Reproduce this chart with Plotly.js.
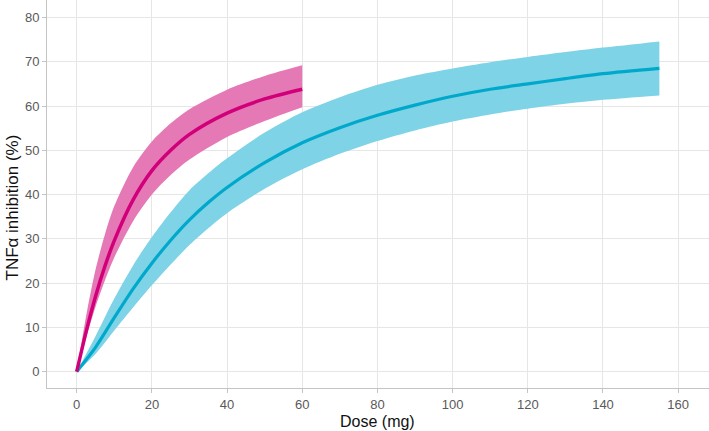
<!DOCTYPE html>
<html>
<head>
<meta charset="utf-8">
<script src="https://cdn.plot.ly/plotly-3.0.1.min.js"></script>
<style>html,body{margin:0;padding:0;background:#fff;}#chart{width:709px;height:431px;}</style>
</head>
<body>
<div id="chart"></div>
<script>
// Magenta series (doses 0-60 mg)
const doseA = [0, 2.5, 5, 7.5, 10, 15, 20, 25, 30, 40, 50, 60];
const medianA = [0, 9.0, 17.0, 23.8, 29.6, 38.8, 45.4, 50.0, 53.6, 58.4, 61.6, 63.8];
const upperA = [0, 12.5, 23.0, 31.0, 37.4, 46.2, 52.0, 56.1, 59.3, 63.7, 66.8, 69.2];
const lowerA = [0, 7.6, 14.6, 20.6, 25.8, 34.0, 40.0, 44.4, 47.9, 53.0, 56.6, 59.7];

// Cyan series (doses 0-155 mg)
const doseB = [0, 5, 10, 15, 20, 25, 30, 35, 40, 50, 60, 70, 80, 90, 100, 110, 120, 130, 140, 155];
const medianB = [0, 5.5, 12.2, 18.7, 24.5, 29.7, 34.3, 38.2, 41.6, 47.2, 51.7, 55.1, 57.9, 60.2, 62.2, 63.8, 65.0, 66.2, 67.3, 68.5];
const upperB = [0, 8.0, 16.5, 24.0, 30.4, 36.0, 41.0, 44.8, 48.2, 54.0, 58.6, 62.0, 64.8, 66.9, 68.5, 69.9, 71.1, 72.2, 73.2, 74.6];
const lowerB = [0, 4.0, 9.3, 14.5, 19.5, 24.2, 28.6, 32.4, 35.8, 41.3, 45.7, 49.2, 52.1, 54.5, 56.5, 58.1, 59.4, 60.5, 61.4, 62.4];

const xTicks = [0, 20, 40, 60, 80, 100, 120, 140, 160];
const yTicks = [0, 10, 20, 30, 40, 50, 60, 70, 80];

const FONT = 'Liberation Sans, Arial, sans-serif';

function band(x, up, lo, color) {
  return [
    {x: x, y: lo, type: 'scatter', mode: 'lines',
     line: {width: 0, shape: 'spline', smoothing: 0.8}, hoverinfo: 'skip', showlegend: false},
    {x: x, y: up, type: 'scatter', mode: 'lines', fill: 'tonexty', fillcolor: color,
     line: {width: 0, shape: 'spline', smoothing: 0.8}, hoverinfo: 'skip', showlegend: false}
  ];
}
function line(x, y, color, w) {
  return {x: x, y: y, type: 'scatter', mode: 'lines',
    line: {color: color, width: w, shape: 'spline', smoothing: 0.8}, showlegend: false};
}

const data = [].concat(
  band(doseB, upperB, lowerB, 'rgb(127,211,230)'),
  band(doseA, upperA, lowerA, 'rgb(228,121,182)'),
  [line(doseB, medianB, '#00A9CB', 3.2), line(doseA, medianA, '#D1007A', 3.5)]
);

const axisCommon = {
  showgrid: true, gridcolor: '#e6e6e6', gridwidth: 1,
  zeroline: false, showline: true, linecolor: '#c4c4c4', linewidth: 1, mirror: true,
  ticks: 'outside', ticklen: 4, tickcolor: '#c4c4c4',
  tickfont: {family: FONT, size: 13, color: '#595959'}
};

const layout = {
  width: 709, height: 431,
  margin: {l: 47, r: 0, t: 0, b: 43},
  paper_bgcolor: '#ffffff', plot_bgcolor: '#ffffff',
  xaxis: Object.assign({}, axisCommon, {
    range: [-7.9, 168.2], tickvals: xTicks, ticktext: xTicks.map(String)
  }),
  yaxis: Object.assign({}, axisCommon, {
    range: [-3.69, 83.95], tickvals: yTicks, ticktext: yTicks.map(String)
  }),
  annotations: [{
    text: 'TNFα inhibition (%)', xref: 'paper', yref: 'paper',
    x: -47 / 662, xanchor: 'left', y: (388 - 208) / 388, yanchor: 'middle',
    textangle: -90, showarrow: false,
    font: {family: FONT, size: 17, color: '#111111'}
  }, {
    text: 'Dose (mg)', xref: 'x', yref: 'paper',
    x: 80, xanchor: 'center', y: (388 - 431) / 388, yanchor: 'bottom',
    showarrow: false, borderpad: 0,
    font: {family: FONT, size: 16, color: '#111111'}
  }]
};

Plotly.newPlot('chart', data, layout, {displayModeBar: false, staticPlot: true});
</script>
</body>
</html>
